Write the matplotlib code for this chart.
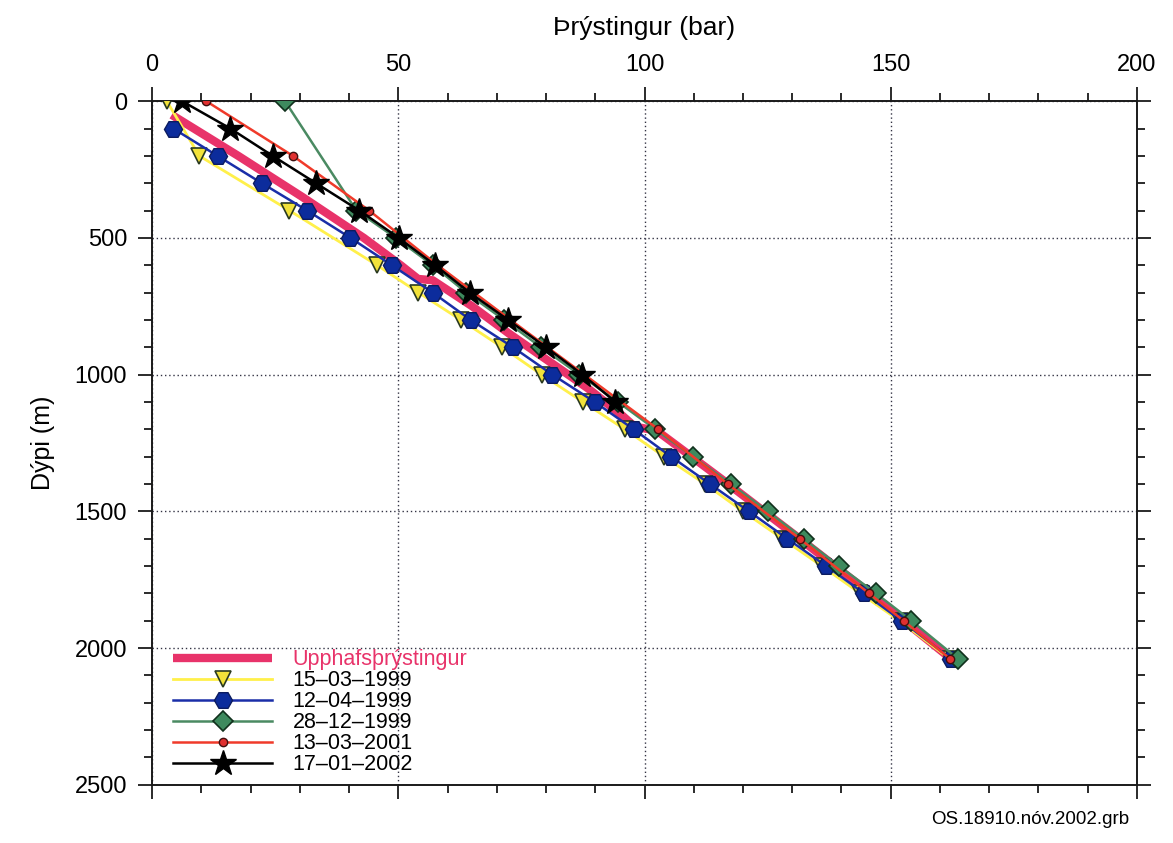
import matplotlib
matplotlib.use("Agg")
import matplotlib.pyplot as plt
from matplotlib.ticker import MultipleLocator

plt.rcParams['font.family'] = ['Liberation Sans', 'DejaVu Sans']

# upphafsþrýstingur (initial pressure)
init_depth = [50, 200, 350, 500, 600, 650, 655, 750, 850, 950, 1050, 1150, 1190, 1205, 1400, 1600, 1800, 2040]
init_p = [4.0, 17.5, 30.5, 43.0, 50.5, 54.0, 57.0, 65.0, 72.5, 80.5, 88.5, 95.5, 98.0, 102.5, 117.0, 131.5, 145.8, 162.3]

d_150399 = [0, 200, 400, 600, 700, 800, 900, 1000, 1100, 1200, 1300, 1400, 1500, 1600, 1700, 1800, 1900, 2040]
p_150399 = [3.0, 9.6, 27.9, 45.7, 54.1, 62.7, 71.1, 79.1, 87.5, 96.0, 104.0, 112.3, 120.0, 128.0, 136.0, 143.8, 151.8, 162.0]

d_120499 = [100, 200, 300, 400, 500, 600, 700, 800, 900, 1000, 1100, 1200, 1300, 1400, 1500, 1600, 1700, 1800, 1900, 2040]
p_120499 = [4.3, 13.3, 22.3, 31.5, 40.3, 48.7, 57.0, 64.7, 73.3, 81.3, 89.9, 97.8, 105.4, 113.3, 121.2, 129.0, 136.9, 144.6, 152.2, 162.3]

d_281299 = [0, 400, 500, 600, 700, 800, 900, 1000, 1100, 1200, 1300, 1400, 1500, 1600, 1700, 1800, 1900, 2040]
p_281299 = [27.0, 41.5, 49.5, 57.0, 63.8, 71.5, 79.0, 86.8, 94.6, 102.2, 109.9, 117.5, 125.0, 132.3, 139.5, 147.0, 154.2, 163.7]

d_130301 = [0, 200, 400, 600, 800, 1000, 1200, 1400, 1600, 1800, 1900, 2040]
p_130301 = [11.0, 28.6, 44.1, 58.0, 72.8, 87.8, 102.8, 116.9, 131.5, 145.6, 152.6, 162.1]

d_170102 = [0, 100, 200, 300, 400, 500, 600, 700, 800, 900, 1000, 1100]
p_170102 = [6.1, 15.9, 24.5, 33.3, 42.1, 50.1, 57.5, 64.5, 72.3, 80.0, 87.4, 94.1]

fig = plt.figure(figsize=(11.73, 8.43), dpi=100)
ax = fig.add_axes([0.1296, 0.069, 0.8397, 0.811])

pink = '#e8336a'
ax.plot(init_p, init_depth, color=pink, lw=6, solid_capstyle='butt', label='Upphafsþrýstingur', zorder=2)
ax.plot(p_150399, d_150399, color='#fff04a', lw=2, marker='v', ms=12, mfc='#f2e23a', mec='#2a3a20', mew=1.2,
        label='15–03–1999', zorder=3)
ax.plot(p_120499, d_120499, color='#1a2ea8', lw=1.8, marker='H', ms=13, mfc='#0c2c9c', mec='#0c1c60', mew=1.0,
        label='12–04–1999', zorder=4)
ax.plot(p_281299, d_281299, color='#4a8a62', lw=1.8, marker='D', ms=10, mfc='#3e8a5e', mec='#10301c', mew=1.2,
        label='28–12–1999', zorder=5)
ax.plot(p_130301, d_130301, color='#f03a2a', lw=1.8, marker='o', ms=6, mfc='#e03030', mec='#401010', mew=1.0,
        label='13–03–2001', zorder=6)
ax.plot(p_170102, d_170102, color='black', lw=1.8, marker='*', ms=19, mfc='black', mec='black',
        label='17–01–2002', zorder=7)

ax.set_xlim(0, 200)
ax.set_ylim(2500, 0)
ax.xaxis.tick_top()
ax.xaxis.set_label_position('top')
ax.xaxis.set_major_locator(MultipleLocator(50))
ax.xaxis.set_minor_locator(MultipleLocator(10))
ax.yaxis.set_major_locator(MultipleLocator(500))
ax.yaxis.set_minor_locator(MultipleLocator(100))
ax.tick_params(which='both', direction='out', top=True, bottom=True, left=True, right=True,
               labeltop=True, labelbottom=False, labelleft=True, labelright=False, width=1.3, color='#1a1a1a')
ax.tick_params(which='major', length=10, labelsize=17, pad=8)
ax.tick_params(which='minor', length=6)
for s in ax.spines.values():
    s.set_linewidth(1.4)
    s.set_color('#1a1a1a')
ax.grid(True, which='major', linestyle=(0, (1, 2)), color='#333344', lw=1.0)

ax.set_xlabel('Þrýstingur (bar)', fontsize=19, labelpad=14)
ax.set_ylabel('Dýpi (m)', fontsize=18, labelpad=14)

leg = ax.legend(loc='lower left', bbox_to_anchor=(0.006, -0.008), frameon=False, fontsize=15.5,
                handlelength=4.6, handletextpad=0.95, labelspacing=0.0, borderaxespad=0.3)
leg.get_texts()[0].set_color(pink)

fig.text(0.963, 0.018, 'OS.18910.nóv.2002.grb', ha='right', va='bottom', fontsize=13.5)

fig.savefig('out.png', dpi=100)
